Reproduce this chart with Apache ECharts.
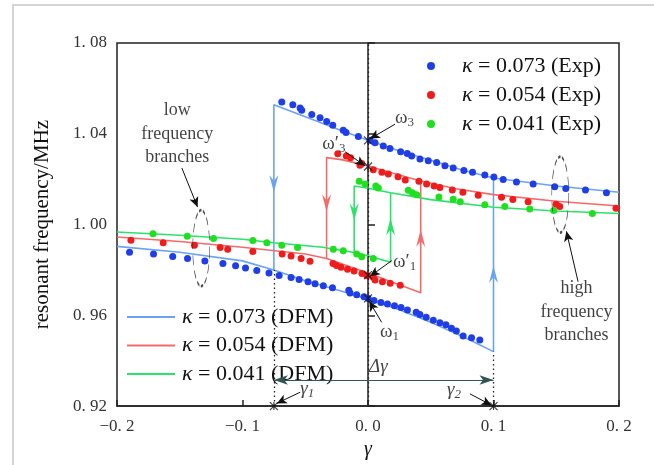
<!DOCTYPE html>
<html>
<head>
<meta charset="utf-8">
<script src="https://cdn.jsdelivr.net/npm/echarts@6/dist/echarts.min.js"></script>
<style>
  html, body { margin: 0; padding: 0; background: #fff; }
  #chart { width: 654px; height: 465px; }
</style>
</head>
<body>
<div id="chart"></div>
<script>
  // 坐标轴刻度
  const xTicks = [-0.2, -0.1, 0.0, 0.1, 0.2]
  const yTicks = [0.92, 0.96, 1.00, 1.04, 1.08]

  // 实验点 (Exp) —— 高频支 / 低频支
  const blueUpperExp = [[-0.0687, 1.0540], [-0.0599, 1.0528], [-0.0541, 1.0514], [-0.0528, 1.0504], [-0.0448, 1.0485], [-0.0382, 1.0471], [-0.0329, 1.0454], [-0.0281, 1.0438], [-0.0197, 1.0416], [-0.0175, 1.0406], [-0.0077, 1.0388], [0.0016, 1.0371], [0.0056, 1.0361], [0.0122, 1.0346], [0.0175, 1.0335], [0.0260, 1.0321], [0.0313, 1.0313], [0.0348, 1.0302], [0.0414, 1.0289], [0.0480, 1.0281], [0.0547, 1.0273], [0.0613, 1.0259], [0.0679, 1.0249], [0.0764, 1.0238], [0.0833, 1.0230], [0.0931, 1.0218], [0.1003, 1.0209], [0.1077, 1.0199], [0.1183, 1.0188], [0.1316, 1.0179], [0.1488, 1.0167], [0.1576, 1.0159], [0.1733, 1.0152], [0.1900, 1.0140]]
  const blueLowerExp = [[-0.1900, 0.9878], [-0.1709, 0.9870], [-0.1556, 0.9859], [-0.1438, 0.9850], [-0.1300, 0.9839], [-0.1156, 0.9828], [-0.1055, 0.9818], [-0.0976, 0.9808], [-0.0886, 0.9798], [-0.0789, 0.9787], [-0.0708, 0.9776], [-0.0613, 0.9767], [-0.0549, 0.9758], [-0.0478, 0.9748], [-0.0422, 0.9739], [-0.0356, 0.9730], [-0.0283, 0.9721], [-0.0153, 0.9710], [-0.0143, 0.9698], [-0.0090, 0.9691], [-0.0032, 0.9682], [0.0002, 0.9674], [0.0048, 0.9665], [0.0103, 0.9657], [0.0155, 0.9650], [0.0211, 0.9642], [0.0263, 0.9634], [0.0314, 0.9623], [0.0384, 0.9613], [0.0414, 0.9604], [0.0464, 0.9591], [0.0520, 0.9578], [0.0573, 0.9567], [0.0621, 0.9559], [0.0665, 0.9543], [0.0704, 0.9531], [0.0758, 0.9509], [0.0825, 0.9501], [0.0891, 0.9491]]
  const redUpperExp = [[-0.0241, 1.0312], [-0.0173, 1.0302], [-0.0139, 1.0294], [-0.0064, 1.0261], [-0.0050, 1.0269], [0.0042, 1.0242], [0.0111, 1.0230], [0.0162, 1.0223], [0.0239, 1.0211], [0.0297, 1.0196], [0.0406, 1.0191], [0.0467, 1.0179], [0.0527, 1.0170], [0.0573, 1.0163], [0.0672, 1.0152], [0.0756, 1.0142], [0.0878, 1.0129], [0.1064, 1.0120], [0.1154, 1.0110], [0.1276, 1.0100], [0.1499, 1.0090], [0.1528, 1.0079], [0.1976, 1.0072]]
  const redLowerExp = [[-0.1889, 0.9931], [-0.1632, 0.9920], [-0.1383, 0.9909], [-0.1178, 0.9899], [-0.1118, 0.9891], [-0.0918, 0.9881], [-0.0684, 0.9870], [-0.0613, 0.9861], [-0.0533, 0.9850], [-0.0462, 0.9838], [-0.0279, 0.9828], [-0.0251, 0.9820], [-0.0215, 0.9812], [-0.0163, 0.9803], [-0.0111, 0.9795], [-0.0048, 0.9784], [-0.0008, 0.9774], [0.0042, 0.9768], [0.0056, 0.9756], [0.0115, 0.9748], [0.0177, 0.9741], [0.0257, 0.9732]]
  const greenUpperExp = [[-0.0070, 1.0191], [-0.0024, 1.0179], [0.0062, 1.0170], [0.0082, 1.0161], [0.0321, 1.0151], [0.0354, 1.0140], [0.0388, 1.0131], [0.0565, 1.0121], [0.0679, 1.0111], [0.0735, 1.0100], [0.0931, 1.0087], [0.1090, 1.0080], [0.1289, 1.0069], [0.1480, 1.0062], [0.1788, 1.0049]]
  const greenLowerExp = [[-0.1713, 0.9960], [-0.1440, 0.9948], [-0.1231, 0.9939], [-0.0918, 0.9930], [-0.0806, 0.9920], [-0.0687, 0.9909], [-0.0561, 0.9899], [-0.0276, 0.9891], [-0.0197, 0.9884], [-0.0090, 0.9870], [-0.0050, 0.9858], [0.0042, 0.9850]]

  // DFM 理论曲线
  const blueUpperFit = [[-0.075, 1.0528], [-0.05, 1.0475], [-0.025, 1.0422], [0, 1.0371], [0.025, 1.0324], [0.05, 1.0283], [0.075, 1.0240], [0.1, 1.0205], [0.15, 1.0170], [0.2, 1.0142]]
  const blueLowerFit = [[-0.2, 0.9904], [-0.15, 0.9878], [-0.1, 0.9840], [-0.075, 0.9800], [-0.05, 0.9752], [-0.025, 0.9713], [0, 0.9672], [0.025, 0.9625], [0.05, 0.9569], [0.075, 0.9508], [0.1, 0.9440]]
  const redUpperFit = [[-0.033, 1.0295], [-0.02, 1.0285], [0, 1.0258], [0.02, 1.0226], [0.042, 1.0192], [0.07, 1.0158], [0.1, 1.0132], [0.15, 1.0103], [0.2, 1.0082]]
  const redLowerFit = [[-0.2, 0.9945], [-0.15, 0.9925], [-0.1, 0.9900], [-0.05, 0.9870], [-0.033, 0.9850], [0, 0.9787], [0.02, 0.9745], [0.042, 0.9700]]
  const greenUpperFit = [[-0.011, 1.0170], [0, 1.0160], [0.018, 1.0140], [0.05, 1.0110], [0.1, 1.0076], [0.15, 1.0060], [0.2, 1.0049]]
  const greenLowerFit = [[-0.2, 0.9967], [-0.15, 0.9953], [-0.1, 0.9935], [-0.075, 0.9920], [-0.036, 0.9900], [-0.011, 0.9877], [0, 0.9862], [0.018, 0.9834]]

  // 跳变点 [向下跳, 向上跳]
  const blueJump = [-0.075, 0.1]
  const redJump = [-0.033, 0.042]
  const greenJump = [-0.011, 0.018]

  // 箭头位置 [x, y, 方向]
  const blueArrows = [[-0.075, 1.018, 'down'], [0.1, 0.978, 'up']]
  const redArrows = [[-0.033, 1.0095, 'down'], [0.042, 0.994, 'up']]
  const greenArrows = [[-0.011, 1.0055, 'down'], [0.018, 0.999, 'up']]

  // 标记点 ×
  const crossPoints = [[-0.075, 0.92], [0.1, 0.92], [0, 1.0371], [0, 1.0256], [0, 0.9777], [0, 0.9675]]

  const SERIF = '"Liberation Serif", "Times New Roman", serif'
  const C_BLUE = '#1f3ee8'
  const C_RED = '#f01c1c'
  const C_GREEN = '#1fe01f'
  const L_BLUE = '#6aa3f2'
  const L_RED = '#f46a6a'
  const L_GREEN = '#2ae36a'

  function loopPath (upper, lower, jump) {
    let path = upper.slice().reverse()
    lower.forEach(p => { if (p[0] >= jump[0]) path.push(p) })
    path.push(upper.find(p => p[0] === jump[1]))
    return path
  }
  function leftPart (lower, jump) {
    return lower.filter(p => p[0] <= jump[0])
  }
  function arrowData (list) {
    return list.map(a => ({ value: [a[0], a[1]], symbolRotate: a[2] === 'down' ? 180 : 0 }))
  }

  const subStyle = { fontFamily: SERIF, fontSize: 13, padding: [9, 0, 0, 0], color: '#111' }

  let series = []
  const fits = [
    ['κ = 0.073 (DFM)', blueUpperFit, blueLowerFit, blueJump, L_BLUE],
    ['κ = 0.054 (DFM)', redUpperFit, redLowerFit, redJump, L_RED],
    ['κ = 0.041 (DFM)', greenUpperFit, greenLowerFit, greenJump, L_GREEN]
  ]
  fits.forEach(f => {
    series.push({ name: f[0], type: 'line', symbol: 'none', data: loopPath(f[1], f[2], f[3]), lineStyle: { color: f[4], width: 1.6 }, itemStyle: { color: f[4] }, z: 2 })
    series.push({ name: f[0], type: 'line', symbol: 'none', data: leftPart(f[2], f[3]), lineStyle: { color: f[4], width: 1.6 }, itemStyle: { color: f[4] }, z: 2 })
  })
  const arrows = [[blueArrows, L_BLUE], [redArrows, L_RED], [greenArrows, L_GREEN]]
  arrows.forEach(a => {
    series.push({ type: 'scatter', symbol: 'path://M5,0L10,18L5,12L0,18Z', symbolSize: [9, 17], data: arrowData(a[0]), itemStyle: { color: a[1], opacity: 1 }, z: 3, silent: true })
  })
  const exps = [
    ['κ = 0.073 (Exp)', blueUpperExp.concat(blueLowerExp), C_BLUE],
    ['κ = 0.054 (Exp)', redUpperExp.concat(redLowerExp), C_RED],
    ['κ = 0.041 (Exp)', greenUpperExp.concat(greenLowerExp), C_GREEN]
  ]
  exps.forEach(e => {
    series.push({ name: e[0], type: 'scatter', symbol: 'circle', symbolSize: 7, data: e[1], itemStyle: { color: e[2], opacity: 1 }, z: 4 })
  })

  // 椭圆、标记、注释文字
  series.push({
    type: 'scatter',
    symbol: 'circle',
    symbolSize: [17, 76],
    data: [[-0.1329, 0.9896], [0.1532, 1.0132]],
    itemStyle: { color: 'transparent', borderColor: '#222', borderWidth: 1.3, borderType: [5, 3] },
    z: 5,
    silent: true
  })
  series.push({
    type: 'scatter',
    symbol: 'path://M0,0L10,10M10,0L0,10M5,0L5,10',
    symbolSize: 8,
    data: crossPoints,
    itemStyle: { color: 'transparent', borderColor: '#111', borderWidth: 1.2 },
    z: 6,
    silent: true
  })

  const labelPoints = [
    { value: [0.0215, 1.0471], text: 'ω{s|3}' },
    { value: [-0.0365, 1.0355], text: 'ω′{s|3}' },
    { value: [0.0199, 0.9835], text: 'ω′{s|1}' },
    { value: [0.0096, 0.9526], text: 'ω{s|1}' },
    { value: [-0.0541, 0.9277], text: '{i|γ}{si|1}' },
    { value: [0.0629, 0.9269], text: '{i|γ}{si|2}' },
    { value: [0.0008, 0.9372], text: '{i|Δγ}' }
  ]
  series.push({
    type: 'scatter',
    symbolSize: 0.1,
    itemStyle: { color: 'transparent' },
    silent: true,
    z: 7,
    data: labelPoints.map(p => ({
      value: p.value,
      label: {
        show: true,
        position: 'right',
        distance: 0,
        formatter: p.text,
        fontFamily: SERIF,
        fontSize: 19,
        color: '#111',
        rich: {
          s: subStyle,
          i: { fontFamily: SERIF, fontSize: 19, fontStyle: 'italic', color: '#111' },
          si: { fontFamily: SERIF, fontSize: 13, fontStyle: 'italic', padding: [9, 0, 0, 0], color: '#111' }
        }
      }
    })),
    markLine: {
      silent: true,
      symbol: ['none', 'arrow'],
      symbolSize: [7, 10],
      label: { show: false },
      lineStyle: { color: '#111', width: 1, type: 'solid' },
      data: [
        [{ coord: [0.0215, 1.0442] }, { coord: [0.0016, 1.0378] }],
        [{ coord: [-0.0183, 1.0321] }, { coord: [-0.0024, 1.0259] }],
        [{ coord: [0.0189, 0.9841] }, { coord: [0.0016, 0.9772] }],
        [{ coord: [0.0109, 0.9569] }, { coord: [0.0010, 0.9662] }],
        [{ coord: [-0.0541, 0.9261] }, { coord: [-0.0727, 0.9212] }],
        [{ coord: [0.0812, 0.9254] }, { coord: [0.0984, 0.9204] }],
        [{ coord: [-0.1483, 1.0249] }, { coord: [-0.1358, 1.0077] }],
        [{ coord: [0.1674, 0.9748] }, { coord: [0.1581, 0.9970] }]
      ]
    }
  })

  // 分支说明文字
  series.push({
    type: 'scatter',
    symbolSize: 0.1,
    itemStyle: { color: 'transparent' },
    silent: true,
    z: 7,
    label: { show: true, position: 'inside', fontFamily: SERIF, fontSize: 18, lineHeight: 23.5, color: '#111', align: 'center' },
    data: [
      { value: [-0.152, 1.0398], label: { formatter: 'low\nfrequency\nbranches' } },
      { value: [0.1661, 0.9614], label: { formatter: 'high\nfrequency\nbranches' } }
    ]
  })

  // 虚线 与 Δγ 双箭头
  series.push({
    type: 'line',
    data: [],
    markLine: {
      silent: true,
      symbol: 'none',
      label: { show: false },
      lineStyle: { color: '#222', width: 1.3, type: [1.5, 3] },
      data: [
        [{ coord: [-0.075, 0.92] }, { coord: [-0.075, 0.98] }],
        [{ coord: [0, 0.92] }, { coord: [0, 1.08] }],
        [{ coord: [0.1, 0.92] }, { coord: [0.1, 0.944] }]
      ]
    }
  })
  series.push({
    type: 'line',
    data: [],
    markLine: {
      silent: true,
      symbol: ['arrow', 'arrow'],
      symbolSize: [7, 14],
      label: { show: false },
      lineStyle: { color: '#2f5555', width: 1.2, type: 'solid' },
      data: [[{ coord: [-0.075, 0.9315] }, { coord: [0.1, 0.9315] }]]
    }
  })

  const legendRich = {
    k: { fontFamily: SERIF, fontSize: 22, fontStyle: 'italic', color: '#111' }
  }
  const option = {
    animation: false,
    backgroundColor: '#fff',
    graphic: [{
      type: 'rect',
      shape: { x: 13, y: 5, width: 660, height: 480 },
      style: { fill: 'none', stroke: '#d4d4d4', lineWidth: 2 },
      silent: true
    }],
    grid: { left: 117, right: 35, top: 43, bottom: 49, show: true, borderColor: '#222', borderWidth: 1.5 },
    legend: [{
      orient: 'vertical',
      left: 422,
      top: 50,
      itemWidth: 8,
      itemHeight: 8,
      itemGap: 7,
      icon: 'circle',
      data: exps.map(e => e[0]),
      formatter: name => '{k|κ}' + name.slice(1),
      textStyle: { fontFamily: SERIF, fontSize: 22, color: '#111', lineHeight: 22, padding: [0, 0, 0, 22], rich: legendRich }
    }, {
      orient: 'vertical',
      left: 122,
      top: 301,
      itemWidth: 48,
      itemHeight: 2,
      itemGap: 6.5,
      icon: 'rect',
      data: fits.map(f => f[0]),
      formatter: name => '{k|κ}' + name.slice(1),
      textStyle: { fontFamily: SERIF, fontSize: 22, color: '#111', lineHeight: 22, padding: [0, 0, 0, 2], rich: legendRich }
    }],
    xAxis: {
      type: 'value',
      min: xTicks[0],
      max: xTicks[xTicks.length - 1],
      interval: 0.1,
      name: 'γ',
      nameLocation: 'middle',
      nameGap: 30,
      nameTextStyle: { fontFamily: SERIF, fontSize: 20, fontStyle: 'italic', color: '#111' },
      axisLine: { show: true, lineStyle: { color: '#222', width: 1.5 } },
      axisTick: { show: true, inside: true, length: 6, lineStyle: { color: '#222', width: 1.5 } },
      splitLine: { show: false },
      axisLabel: {
        margin: 12,
        fontFamily: SERIF,
        fontSize: 17,
        color: '#333',
        formatter: v => (v < -1e-9 ? '−' : '') + Math.abs(v).toFixed(1).replace('.', '. ')
      }
    },
    yAxis: {
      type: 'value',
      min: yTicks[0],
      max: yTicks[yTicks.length - 1],
      interval: 0.04,
      name: 'resonant frequency/MHz',
      nameLocation: 'middle',
      nameGap: 64,
      nameTextStyle: { fontFamily: SERIF, fontSize: 21, color: '#111' },
      axisLine: { show: true, lineStyle: { color: '#222', width: 1.5 } },
      axisTick: { show: true, inside: true, length: 7, lineStyle: { color: '#222', width: 1.5 } },
      splitLine: { show: false },
      axisLabel: {
        margin: 10,
        fontFamily: SERIF,
        fontSize: 17,
        color: '#333',
        formatter: v => v.toFixed(2).replace('.', '. ')
      }
    },
    series: series
  }

  const myChart = echarts.init(document.getElementById('chart'))
  myChart.setOption(option)
</script>
</body>
</html>
